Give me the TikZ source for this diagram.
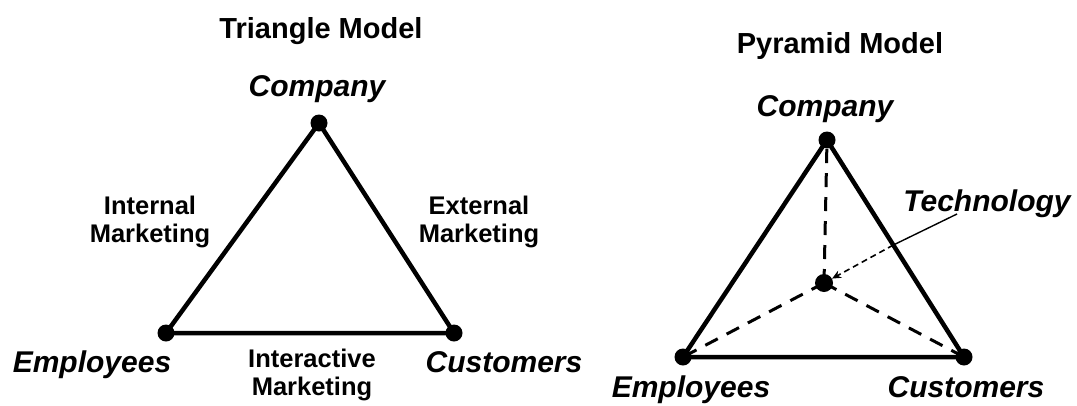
\documentclass[tikz,border=0pt]{standalone}
\usepackage{fontspec}
\setmainfont{Liberation Sans}
\usetikzlibrary{calc,arrows.meta}
\begin{document}
\begin{tikzpicture}[x=1pt,y=-1pt,
  vertex/.style={circle,fill=black,inner sep=0pt,minimum size=17pt},
  apex/.style={font=\fontsize{30}{30}\selectfont\bfseries\itshape,anchor=base,inner sep=0pt},
  title/.style={font=\fontsize{29}{29}\selectfont\bfseries,anchor=base,inner sep=0pt},
  side/.style={font=\fontsize{25.5}{28.5}\selectfont\bfseries,align=center,inner sep=0pt},
  edge/.style={line width=4.5pt,line join=round},
  hidden/.style={line width=3pt,dash pattern=on 14pt off 10pt}]
\useasboundingbox (0,0) rectangle (1077,405);

% ---- triangle model ----
\node[title] (ttitle) at (321,38) {Triangle Model};
\node[vertex] (tc) at (319,123) {};
\node[vertex] (te) at (166,333) {};
\node[vertex] (tu) at (454,333) {};
\draw[edge] (tc.center) -- (te.center) -- (tu.center) -- cycle;
\node[apex] (tcl) at (317,96) {Company};
\node[apex] (tel) at (92,372) {Employees};
\node[apex] (tul) at (504,372) {Customers};
\node[side] (tin) at (150,222) {Internal\\Marketing};
\node[side] (tex) at (479,222) {External\\Marketing};
\node[side] (tia) at (312,375) {Interactive\\Marketing};

% ---- pyramid model ----
\node[title] (ptitle) at (840,53) {Pyramid Model};
\node[vertex] (pc) at (827,140) {};
\node[vertex] (pe) at (683,357) {};
\node[vertex] (pu) at (964,357) {};
\node[vertex,minimum size=18pt] (pt) at (824,283) {};
\draw[hidden] (pt.center) -- (pc.center);
\draw[hidden] (pt.center) -- (pe.center);
\draw[hidden] (pt.center) -- (pu.center);
\draw[edge] (pc.center) -- (pe.center) -- (pu.center) -- cycle;
\node[apex] (pcl) at (825,116) {Company};
\node[apex] (pel) at (691,397) {Employees};
\node[apex] (pul) at (966,397) {Customers};
\node[apex] (ptl) at (987,211) {Technology};

% pointer from the label to the hidden apex
\coordinate (tstart) at (957,214);
\coordinate (tcross) at ($(pc.center)!0.484!(pu.center)$);
\draw[line width=1.4pt] (tstart) -- (tcross);
\draw[line width=1.6pt,dash pattern=on 6pt off 4pt,-{Stealth[length=9pt,width=8pt]}] (tcross) -- (pt);
\end{tikzpicture}
\end{document}
